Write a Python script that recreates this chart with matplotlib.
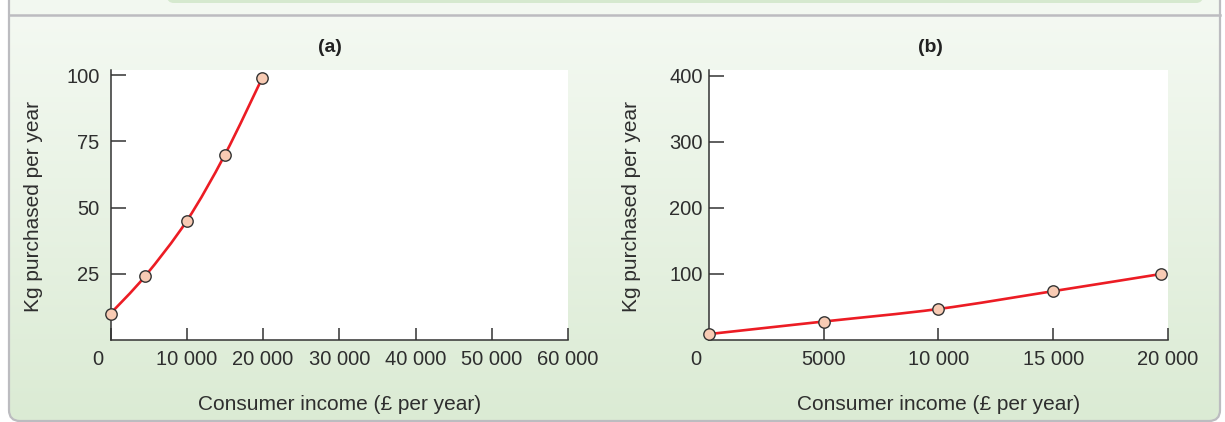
import numpy as np
import matplotlib
matplotlib.use("Agg")
import matplotlib.pyplot as plt
from matplotlib.path import Path
from matplotlib.patches import PathPatch, FancyBboxPatch, Rectangle
from matplotlib.colors import LinearSegmentedColormap
from matplotlib.transforms import ScaledTranslation

# ---------------- data ----------------
income_a = [0, 4500, 10000, 15000, 19900]
kg_a = [10, 24, 45, 70, 99]
income_b = [0, 5000, 10000, 15000, 19700]
kg_b = [9, 28, 47, 74, 100]

xticks_a = [0, 10000, 20000, 30000, 40000, 50000, 60000]
xticklabels_a = ["0", "10 000", "20 000", "30 000", "40 000", "50 000", "60 000"]
yticks_a = [25, 50, 75, 100]
yticklabels_a = ["25", "50", "75", "100"]

xticks_b = [0, 5000, 10000, 15000, 20000]
xticklabels_b = ["0", "5000", "10 000", "15 000", "20 000"]
yticks_b = [100, 200, 300, 400]
yticklabels_b = ["100", "200", "300", "400"]

titles = ["(a)", "(b)"]
xlabel = "Consumer income (£ per year)"
ylabel = "Kg purchased per year"

# ---------------- style ----------------
plt.rcParams['font.family'] = ['Liberation Sans', 'DejaVu Sans']
TXT = '#2e2e2e'
AX = '#333333'
RED = '#ec1c24'
FACE = '#f8cbb4'

W, H = 1225, 422
fig = plt.figure(figsize=(W / 100, H / 100), dpi=100, facecolor='white')

# ---------------- background panel ----------------
bg = fig.add_axes([0, 0, 1, 1], zorder=-5)
bg.set_xlim(0, W)
bg.set_ylim(H, 0)
bg.axis('off')

bg.add_patch(Rectangle((9, 0), 1211, 15, facecolor='#f2f8f0', edgecolor='none'))
bg.add_patch(FancyBboxPatch((167, -12), 1036, 15,
                            boxstyle="round,pad=0,rounding_size=7",
                            facecolor='#d5e9ce', edgecolor='none'))

cmap = LinearSegmentedColormap.from_list('g', ['#f4f9f2', '#dbebd4'])
grad = np.linspace(0, 1, 256)[:, None]
im = bg.imshow(grad, extent=[9, 1220, 421, 15], aspect='auto', cmap=cmap,
               interpolation='bilinear', zorder=0)
frame = FancyBboxPatch((9, -30), 1211, 451,
                       boxstyle="round,pad=0,rounding_size=11",
                       facecolor='none', edgecolor='none', transform=bg.transData)
bg.add_patch(frame)
im.set_clip_path(frame)
bg.add_patch(FancyBboxPatch((9, -30), 1211, 451,
                            boxstyle="round,pad=0,rounding_size=11",
                            facecolor='none', edgecolor='#bcbcc0', lw=1.6, zorder=2))
bg.plot([9, 1220], [14.5, 14.5], color='#bcbcc0', lw=1.8, zorder=2)


def smooth_path(xs, ys):
    pts = np.column_stack([xs, ys]).astype(float)
    ext = np.vstack([pts[0], pts, pts[-1]])
    verts = [tuple(pts[0])]
    codes = [Path.MOVETO]
    for i in range(len(pts) - 1):
        p0, p1, p2, p3 = ext[i], ext[i + 1], ext[i + 2], ext[i + 3]
        c1 = p1 + (p2 - p0) / 6.0
        c2 = p2 - (p3 - p1) / 6.0
        verts += [tuple(c1), tuple(c2), tuple(p2)]
        codes += [Path.CURVE4] * 3
    return Path(verts, codes)


def make_panel(rect, xs, ys, xlim, ylim, xticks, xtl, yticks, ytl, title, ypad, tx):
    ax = fig.add_axes(rect)
    ax.set_facecolor('white')
    ax.set_xlim(*xlim)
    ax.set_ylim(*ylim)
    for s in ['top', 'right']:
        ax.spines[s].set_visible(False)
    for s in ['left', 'bottom']:
        ax.spines[s].set_color(AX)
        ax.spines[s].set_linewidth(1.1)
    ax.set_xticks(xticks)
    ax.set_xticklabels(xtl)
    ax.set_yticks(yticks)
    ax.set_yticklabels(ytl)
    ax.tick_params(axis='x', direction='in', length=8.5, width=1.1, color=AX,
                   labelsize=14.5, labelcolor=TXT, pad=7)
    ax.tick_params(axis='y', direction='in', length=10.5, width=1.1, color=AX,
                   labelsize=14.5, labelcolor=TXT, pad=ypad)
    # shift the "0" label left of the corner
    lbl0 = ax.get_xticklabels()[0]
    lbl0.set_transform(lbl0.get_transform() +
                       ScaledTranslation(-13 / 100, 0, fig.dpi_scale_trans))

    ax.add_patch(PathPatch(smooth_path(xs, ys), facecolor='none', edgecolor=RED,
                           lw=1.9, zorder=3, clip_on=False))
    ax.plot(xs, ys, linestyle='none', marker='o', markersize=8.2,
            markerfacecolor=FACE, markeredgecolor=AX, markeredgewidth=1.0,
            zorder=4, clip_on=False)

    ax.set_xlabel(xlabel, fontsize=15, color=TXT)
    ax.xaxis.set_label_coords(0.5, -0.205)
    ax.set_ylabel(ylabel, fontsize=15, color=TXT)
    ax.yaxis.set_label_coords(-0.148, 0.493)
    ax.text(tx, 1.083, title, transform=ax.transAxes, ha='center', va='center',
            fontsize=14, fontweight='bold', color='#222222')
    return ax


yb = (H - 340) / H
hh = 270 / H
make_panel([110.5 / W, yb, 457.5 / W, hh], income_a, kg_a, (0, 60000), (0, 102),
           xticks_a, xticklabels_a, yticks_a, yticklabels_a, titles[0], 8, 0.480)
make_panel([709 / W, yb, 459 / W, hh], income_b, kg_b, (0, 20000), (0, 409),
           xticks_b, xticklabels_b, yticks_b, yticklabels_b, titles[1], 4.5, 0.483)

fig.savefig('out.png', dpi=100, facecolor='white')
